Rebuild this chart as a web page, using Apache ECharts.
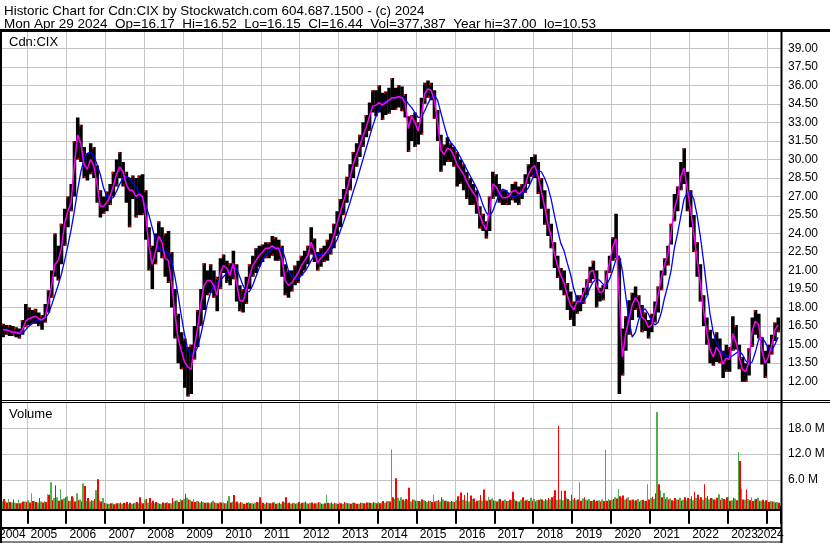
<!DOCTYPE html>
<html><head><meta charset="utf-8">
<script src="https://cdn.jsdelivr.net/npm/echarts@6/dist/echarts.min.js"></script>
<style>html,body{margin:0;padding:0;background:#fff}#c{width:830px;height:543px}</style>
</head><body><div id="c"></div>
<script>
// ---- data (monthly, May 2004 .. Apr 2024) ----
const startYear = 2004, startMonth = 5;
const priceHigh = [
16.7,16.6,16.6,16.5,16.4,16.3,17.0,18.3,18.0,17.8,
17.9,17.6,17.4,18.3,19.4,21.0,24.0,23.0,24.8,26.0,
27.0,28.0,31.5,33.4,32.8,31.0,30.5,31.3,31.0,29.5,
27.5,27.0,27.4,28.0,29.0,30.0,30.6,29.8,29.0,28.5,
28.7,28.5,28.7,28.8,27.5,24.5,23.0,24.0,25.0,24.5,
24.0,24.2,22.5,19.5,17.5,16.0,15.5,14.8,15.0,16.5,
17.8,19.5,21.6,21.0,21.5,21.0,20.5,22.0,22.3,21.8,
21.6,22.6,21.5,19.8,19.5,20.5,21.5,22.2,22.8,23.0,
23.1,23.3,23.3,23.8,23.7,23.5,23.0,21.5,21.0,21.0,
21.4,21.8,22.2,22.6,23.0,24.5,23.6,22.5,22.8,23.0,
23.5,24.0,24.8,25.8,26.8,27.6,28.6,29.6,30.6,31.3,
32.0,33.0,33.6,34.6,35.6,35.6,36.0,35.4,35.5,35.8,
36.6,35.8,36.0,35.9,35.3,33.5,33.6,33.8,33.0,35.0,
36.2,36.4,36.2,35.6,34.0,32.0,31.2,31.8,31.3,31.0,
30.6,30.0,29.6,29.0,28.5,28.0,27.5,26.2,25.6,25.0,
27.0,29.0,28.8,28.0,27.5,27.5,27.3,28.0,28.2,27.8,
28.0,28.8,29.6,30.2,30.4,29.8,28.5,27.5,26.0,24.8,
23.3,22.2,21.2,21.0,20.0,19.3,18.5,19.0,19.0,19.6,
20.3,21.3,21.8,21.0,19.6,19.8,21.0,22.2,23.7,25.6,
22.0,16.3,17.3,18.6,19.2,19.7,19.0,18.2,17.6,17.0,
17.5,18.5,19.7,21.0,22.0,23.0,24.8,27.2,27.8,29.8,
30.9,29.0,27.5,25.5,23.3,21.5,19.0,17.2,16.2,15.5,
16.0,15.5,14.5,15.0,14.8,17.3,16.6,15.0,14.0,13.5,
14.7,17.2,17.8,17.5,15.6,14.5,15.0,15.8,16.8,17.2];
const priceLow = [
15.6,15.8,15.7,15.7,15.6,15.5,15.8,16.4,16.6,16.7,
16.7,16.5,16.2,16.8,17.6,18.8,20.5,20.2,21.5,23.0,
24.5,25.8,27.0,30.0,29.8,28.5,28.3,28.8,28.5,26.5,
25.3,25.6,25.8,26.3,27.0,27.8,28.5,27.8,26.5,24.5,
26.8,25.3,25.5,25.5,23.5,21.0,19.5,21.5,22.5,22.0,
20.5,20.0,18.0,15.5,13.5,13.0,11.5,10.8,11.0,13.8,
14.8,16.5,17.8,19.0,19.2,18.8,17.7,19.5,20.8,20.0,
19.8,20.3,18.5,17.7,17.6,18.3,19.5,20.5,20.8,21.3,
21.7,22.0,22.0,22.2,21.8,21.8,20.5,19.0,18.8,19.3,
19.8,20.0,20.6,21.0,21.5,22.3,21.7,21.0,21.3,21.7,
21.8,22.3,22.8,23.8,24.5,25.5,26.5,27.5,28.5,29.4,
30.2,31.0,31.8,32.3,33.8,33.5,33.8,33.2,33.6,33.7,
34.0,34.0,34.2,33.9,33.4,30.6,31.5,31.0,31.2,32.0,
34.5,35.0,34.8,33.3,31.5,29.0,29.5,29.8,29.8,29.4,
27.8,28.0,27.5,26.8,26.3,26.3,25.6,24.4,24.2,23.6,
24.2,26.8,27.0,26.5,26.3,26.3,26.3,26.7,26.5,26.3,
26.8,27.3,28.0,28.6,28.5,27.2,26.0,24.7,23.8,22.8,
21.2,20.4,19.4,19.0,17.8,17.0,16.5,17.5,17.7,18.3,
19.0,20.0,20.3,18.0,18.5,18.6,19.5,20.8,21.8,22.0,
11.0,12.5,14.5,15.8,17.0,17.8,17.2,16.0,16.1,15.5,
16.0,16.8,17.6,19.4,20.6,21.4,23.1,25.0,25.8,27.5,
28.0,25.8,24.5,22.5,20.5,18.5,16.5,15.0,13.5,13.3,
13.6,13.5,12.3,12.8,12.8,14.5,14.6,13.0,12.0,12.0,
12.5,14.8,15.8,15.5,13.4,12.3,13.5,14.2,15.3,16.0];
const maShort = [
16.2,16.2,16.1,16.0,16.0,15.9,16.2,16.9,17.1,17.2,
17.3,17.1,17.0,17.2,18.5,19.8,21.5,21.8,22.8,24.8,
25.8,26.5,29.5,32.0,31.3,29.6,29.2,30.0,29.5,28.0,
26.2,26.2,26.5,27.0,27.8,28.8,29.4,29.0,28.0,27.5,
27.5,27.0,27.2,27.0,25.5,23.0,21.5,22.5,23.8,23.3,
22.0,21.8,20.0,17.5,15.5,14.5,13.6,13.2,13.0,14.8,
16.3,18.3,19.8,20.2,20.2,19.8,19.0,20.8,21.4,21.2,
20.6,21.6,20.0,18.6,18.5,19.4,20.5,21.4,21.8,22.2,
22.5,22.8,22.8,23.0,22.8,22.8,22.0,20.2,19.8,20.0,
20.4,20.8,21.4,21.8,22.2,23.3,22.6,21.6,22.0,22.3,
22.6,23.0,23.8,24.8,25.7,26.6,27.5,28.5,29.6,30.4,
31.1,31.9,32.6,33.5,34.3,34.4,34.6,34.4,34.6,34.8,
35.0,35.0,35.1,35.0,34.6,32.5,33.5,33.0,32.3,33.5,
35.3,35.7,35.6,34.8,33.0,30.8,30.4,30.9,30.8,30.3,
29.6,29.2,28.8,28.2,27.7,27.3,26.9,25.5,24.8,24.3,
25.8,28.0,27.8,27.3,26.9,26.9,27.0,27.4,27.5,27.2,
27.4,27.9,28.8,29.3,29.5,28.6,27.4,26.2,24.8,23.8,
22.4,21.4,20.6,20.0,19.0,18.2,17.8,18.5,18.5,19.2,
19.8,20.9,21.0,19.8,19.2,19.3,20.3,21.6,22.9,23.6,
19.0,14.0,15.9,17.0,18.2,18.8,18.4,17.2,17.0,16.4,
16.6,17.8,19.0,20.4,21.5,22.3,24.0,26.0,26.9,28.6,
29.3,27.6,26.0,24.0,22.0,20.0,17.8,16.0,14.6,14.0,
14.8,14.4,13.4,13.9,13.8,15.9,15.2,14.0,13.0,12.8,
13.6,16.1,16.9,16.6,14.5,13.5,14.0,14.9,16.2,16.6];
const maLong = [
16.2,16.1,16.1,16.0,16.0,15.9,15.9,16.2,16.5,16.7,
16.9,17.0,17.0,17.1,17.5,18.2,19.0,19.8,20.7,21.8,
23.0,24.3,25.8,27.5,29.0,30.0,30.5,30.6,30.3,29.6,
28.8,27.7,27.0,26.8,26.9,27.4,28.0,28.5,28.6,28.5,
28.1,27.8,27.2,26.8,26.3,25.5,24.5,23.5,22.8,22.6,
22.6,22.4,21.8,20.5,19.0,17.3,15.8,14.6,14.1,14.3,
14.8,15.8,17.0,18.3,19.2,19.8,20.0,20.2,20.5,20.8,
21.0,21.3,21.2,20.5,19.8,19.3,19.3,19.8,20.5,21.2,
21.8,22.3,22.5,22.8,22.9,22.8,22.8,22.0,21.0,20.5,
20.3,20.3,20.6,20.9,21.3,21.8,22.2,22.3,22.3,22.3,
22.4,22.6,23.0,23.5,24.2,24.9,25.7,26.5,27.4,28.2,
29.1,30.0,30.9,31.8,32.7,33.5,34.0,34.5,34.7,34.8,
34.9,35.0,35.0,35.0,34.9,34.5,34.2,33.8,33.4,33.4,
33.9,34.5,35.0,35.2,34.8,33.8,32.8,31.9,31.4,31.1,
30.7,30.2,29.7,29.2,28.7,28.2,27.7,27.1,26.3,25.7,
25.4,25.8,26.5,27.2,27.6,27.5,27.2,27.0,27.0,27.1,
27.2,27.4,27.7,28.3,28.9,29.1,29.0,28.5,27.8,26.8,
25.5,24.3,23.2,22.6,21.6,20.7,19.5,18.7,18.4,18.5,
18.9,19.6,20.1,20.3,20.2,19.9,19.8,20.3,21.0,21.9,
22.2,21.0,19.0,17.0,15.6,16.0,17.0,17.7,17.9,17.5,
16.9,16.6,16.8,17.6,18.8,19.8,21.0,22.8,24.0,25.4,
26.8,27.3,27.3,26.8,25.5,23.8,21.8,19.6,17.5,16.0,
15.1,14.8,14.3,14.1,14.0,14.1,14.3,14.5,14.2,13.7,
13.4,13.6,14.4,15.4,15.6,15.2,14.7,14.5,15.0,15.6];
// volume in millions of shares: up-day and down-day bars per month
const volUp = [
1.0,1.2,1.6,0.8,0.7,1.4,0.8,1.0,1.3,2.9,
1.2,0.8,1.0,1.1,2.7,5.5,1.8,2.0,3.9,1.7,
2.2,1.2,1.9,2.9,1.5,5.2,1.2,1.0,1.2,3.6,
1.3,1.8,0.6,0.5,0.7,0.5,0.6,0.5,0.6,0.4,
0.5,0.7,0.6,0.8,1.5,0.7,0.8,0.6,0.7,0.5,
0.6,0.9,0.6,1.0,1.3,1.6,1.6,1.9,1.4,1.6,
1.2,0.8,0.9,0.7,0.6,1.2,0.7,0.9,0.8,0.6,
2.3,1.0,0.8,0.6,0.8,0.5,0.9,0.6,0.7,0.8,
1.2,0.5,0.7,0.6,0.9,0.6,0.5,0.8,0.6,0.5,
0.7,0.6,0.5,0.8,0.6,0.7,0.5,0.6,0.8,0.5,
2.6,0.6,0.5,0.6,0.8,0.5,0.7,0.6,0.8,0.6,
0.5,0.7,0.6,0.8,0.6,0.7,0.9,0.8,0.7,1.1,
13.1,1.6,1.9,2.0,1.2,1.4,1.0,1.5,1.2,1.0,
1.3,0.9,1.1,2.6,1.2,1.0,1.5,1.2,0.9,1.0,
1.3,1.1,1.4,1.2,1.0,1.6,0.9,1.3,1.2,1.4,
2.1,1.7,1.2,1.4,1.0,1.5,1.1,1.3,1.6,1.0,
1.4,1.2,1.5,1.9,1.6,1.3,1.7,1.2,1.3,1.5,
2.3,1.4,1.5,1.3,1.9,1.2,1.5,1.3,5.5,1.7,
1.4,1.6,1.2,1.0,1.3,1.5,13.0,1.6,1.4,2.0,
3.9,1.8,1.5,2.0,1.4,1.2,1.6,1.3,1.1,5.0,
1.8,1.6,21.8,3.6,3.0,2.0,1.7,1.2,1.5,1.9,
1.4,1.3,1.6,1.3,1.8,1.5,1.4,1.9,1.5,1.7,
1.4,2.7,1.8,1.5,2.1,1.3,1.7,12.5,4.0,1.4,
1.6,2.0,1.5,1.9,1.2,1.0,1.3,1.1,1.0,0.9];
const volDown = [
1.6,0.8,0.9,1.5,0.6,0.6,1.0,0.9,0.8,1.1,
0.9,1.8,0.8,0.9,2.6,1.3,4.8,1.2,1.5,2.0,
1.2,2.2,1.0,1.3,1.0,4.6,1.8,1.3,1.6,6.2,
1.0,0.7,0.5,0.6,0.4,0.6,0.8,0.7,0.9,0.7,
0.6,0.9,2.0,0.6,1.6,1.8,1.2,0.9,0.5,0.8,
0.7,0.6,1.8,1.2,0.9,1.3,2.8,1.5,1.0,0.9,
1.0,1.1,0.7,0.8,0.9,0.8,0.6,0.8,0.6,1.2,
0.8,2.5,1.0,0.9,0.5,0.7,0.6,0.5,0.9,2.0,
0.7,0.8,0.6,0.8,0.5,0.8,1.0,2.0,0.7,0.6,
0.5,0.9,0.7,1.0,0.5,0.8,0.6,0.9,0.5,0.6,
0.7,0.8,0.7,0.5,0.6,0.9,0.6,0.5,0.7,0.5,
0.7,0.6,0.8,0.7,0.9,0.6,0.6,1.1,1.0,1.0,
2.0,6.4,1.2,1.5,1.6,4.2,1.5,1.2,1.1,1.5,
1.1,1.2,0.9,1.0,1.4,2.0,1.2,1.0,1.1,0.9,
2.2,3.1,2.5,3.1,2.4,1.7,1.2,2.5,3.8,1.2,
1.4,1.3,1.0,1.6,1.2,1.1,1.4,3.3,1.2,1.0,
2.0,1.3,1.1,1.2,1.0,1.4,1.5,1.6,1.8,2.0,
3.6,18.6,3.5,3.5,1.6,2.6,1.8,1.5,1.2,2.0,
1.3,1.1,1.4,1.2,1.0,1.1,1.2,1.3,1.6,1.7,
2.2,2.4,1.7,1.3,1.5,1.3,1.0,1.4,1.2,1.5,
2.1,2.9,5.0,2.0,1.6,1.5,1.3,1.8,1.4,1.2,
2.0,1.8,2.2,3.2,2.6,2.0,5.0,2.3,1.8,1.5,
1.9,1.4,1.6,2.0,1.2,1.9,1.3,10.4,1.5,3.8,
1.3,1.1,1.6,1.2,1.4,1.3,0.9,1.0,0.8,0.7];
const yearLabels = ['2004','2005','2006','2007','2008','2009','2010','2011','2012','2013','2014',
  '2015','2016','2017','2018','2019','2020','2021','2022','2023','2024'];
const volTicks = [6, 12, 18];
const titleLine1 = 'Historic Chart for Cdn:CIX by Stockwatch.com 604.687.1500 - (c) 2024';
const titleLine2 = 'Mon Apr 29 2024  Op=16.17  Hi=16.52  Lo=16.15  Cl=16.44  Vol=377,387  Year hi=37.00  lo=10.53';

// ---- build ----
const FONT = '"Liberation Sans", Arial, Helvetica, sans-serif';
const months = priceHigh.map((_, k) => startYear + (startMonth - 1 + k + 0.5) / 12);
const half = 1 / 24;
const xMin = 2004, xMax = 2024.366;
const gridL = -11.62, gridR = 49;
const firstYear = yearLabels[0], lastYear = yearLabels[yearLabels.length - 1];

const chart = echarts.init(document.getElementById('c'), null, {renderer: 'canvas'});

function yearOf(v) {
  if (Math.abs(v - Math.round(v)) > 1e-6) return null;
  const s = String(Math.round(v));
  return yearLabels.indexOf(s) < 0 ? null : s;
}
function yearFmtMain(v) {
  const s = yearOf(v);
  if (!s || s === lastYear) return '';
  return s === firstYear ? '{f|' + s + '}' : '{n|' + s + '}';
}
function yearFmtLast(v) {
  const s = yearOf(v);
  return s === lastYear ? '{l|' + s + '}' : '';
}
const labStyle = {fontSize: 12, fontFamily: FONT, color: '#000', lineHeight: 14};

const rangeData = months.map((t, k) => [t, priceLow[k], priceHigh[k]]);
const upData = months.map((t, k) => [t, volUp[k]]);
const dnData = months.map((t, k) => [t, volDown[k]]);

const option = {
  animation: false,
  backgroundColor: '#fff',
  grid: [
    {left: gridL, right: gridR, top: 31, height: 369.2, outerBoundsMode: 'none', containLabel: false},
    {left: gridL, right: gridR, top: 402, height: 107, outerBoundsMode: 'none', containLabel: false}
  ],
  xAxis: [
    {type: 'value', gridIndex: 0, min: xMin, max: xMax, interval: 1,
      axisLine: {show: false}, axisTick: {show: false}, axisLabel: {show: false},
      splitLine: {show: true, lineStyle: {color: '#c4c4c4', width: 1}}},
    {type: 'value', gridIndex: 1, min: xMin, max: xMax, interval: 1,
      axisLine: {show: false},
      axisTick: {show: true, inside: false, length: 18, lineStyle: {color: '#000', width: 2}},
      axisLabel: {show: true, showMinLabel: true, showMaxLabel: true, hideOverlap: false, margin: 19,
        align: 'left', formatter: yearFmtMain,
        rich: {
          n: Object.assign({padding: [0, 0, 0, 3.3]}, labStyle),
          f: Object.assign({padding: [0, 0, 0, 10.6]}, labStyle)
        }},
      splitLine: {show: true, lineStyle: {color: '#c4c4c4', width: 1}}},
    {type: 'value', gridIndex: 1, min: xMin, max: xMax, interval: 1, position: 'bottom',
      axisLine: {show: false}, axisTick: {show: false}, splitLine: {show: false},
      axisLabel: {show: true, showMinLabel: true, showMaxLabel: true, hideOverlap: false, margin: 19,
        align: 'center', formatter: yearFmtLast,
        rich: {l: Object.assign({padding: [0, 0, 0, 7.1]}, labStyle)}}}
  ],
  yAxis: [
    {type: 'value', gridIndex: 0, position: 'right', min: 10.5, max: 40.4, interval: 1.5,
      axisLine: {show: false}, axisTick: {show: false},
      axisLabel: {show: true, showMinLabel: false, showMaxLabel: false, margin: 7,
        color: '#000', fontSize: 12, fontFamily: FONT, formatter: v => v.toFixed(2)},
      splitLine: {show: true, lineStyle: {color: '#c4c4c4', width: 1}}},
    {type: 'value', gridIndex: 1, position: 'right', min: -0.731, max: 24.1,
      axisLine: {show: false}, axisTick: {show: false}, axisLabel: {show: false},
      splitLine: {show: false}}
  ],
  series: [
    {
      type: 'custom', name: 'range', xAxisIndex: 0, yAxisIndex: 0, z: 2, clip: true,
      encode: {x: 0, y: [1, 2]},
      data: rangeData,
      renderItem: function (params, api) {
        const t = api.value(0);
        const a = api.coord([t - half, api.value(2)]);
        const b = api.coord([t + half, api.value(1)]);
        const w = b[0] - a[0];
        const red = (params.dataIndex % 2 === 0)
          ? {x: a[0], y: a[1], width: 1.5, height: 2}
          : {x: b[0] - 1.5, y: b[1] - 2, width: 1.5, height: 2};
        return {type: 'group', children: [
          {type: 'rect', shape: {x: a[0], y: a[1], width: w + 0.3, height: Math.max(1, b[1] - a[1])},
            style: {fill: '#000'}},
          {type: 'rect', shape: red, style: {fill: '#ff0000'}}
        ]};
      }
    },
    {type: 'line', name: 'maLong', xAxisIndex: 0, yAxisIndex: 0, z: 3, symbol: 'none',
      lineStyle: {color: '#0000ff', width: 1.3},
      data: months.map((t, k) => [t, maLong[k]])},
    {type: 'line', name: 'maShort', xAxisIndex: 0, yAxisIndex: 0, z: 4, symbol: 'none',
      lineStyle: {color: '#ff00ff', width: 1.5},
      data: months.map((t, k) => [t, maShort[k]])},
    {
      type: 'custom', name: 'volUp', xAxisIndex: 1, yAxisIndex: 1, z: 3, clip: true,
      encode: {x: 0, y: 1},
      data: upData,
      renderItem: function (params, api) {
        const t = api.value(0);
        const a = api.coord([t - half, api.value(1)]);
        const b = api.coord([t, 0]);
        const base = params.coordSys.y + params.coordSys.height;
        const x0 = Math.round(a[0]), x1 = Math.round(b[0]);
        return {type: 'rect', shape: {x: x0, y: a[1], width: Math.max(1, x1 - x0), height: base - a[1]},
          style: {fill: '#4cb34c'}};
      },
      markLine: {
        silent: true, z: 1, symbol: ['none', 'none'], animation: false,
        lineStyle: {color: '#c4c4c4', width: 1, type: 'solid'},
        label: {show: true, position: 'end', distance: 7, color: '#000', fontSize: 12, fontFamily: FONT,
          formatter: p => p.value.toFixed(1) + ' M'},
        data: volTicks.map(v => ({yAxis: v}))
      }
    },
    {
      type: 'custom', name: 'volDown', xAxisIndex: 1, yAxisIndex: 1, z: 3, clip: true,
      encode: {x: 0, y: 1},
      data: dnData,
      renderItem: function (params, api) {
        const t = api.value(0);
        const a = api.coord([t, api.value(1)]);
        const b = api.coord([t + half, 0]);
        const base = params.coordSys.y + params.coordSys.height;
        const x0 = Math.round(a[0]), x1 = Math.round(b[0]);
        return {type: 'rect', shape: {x: x0, y: a[1], width: Math.max(1, x1 - x0), height: base - a[1]},
          style: {fill: '#ff0000'}};
      }
    }
  ],
  graphic: [
    {type: 'text', x: 4, y: 11, z: 100, silent: true,
      style: {text: titleLine1, font: '13.4px ' + FONT, fill: '#000', verticalAlign: 'middle'}},
    {type: 'text', x: 4, y: 24, z: 100, silent: true,
      style: {text: titleLine2, font: '13.5px ' + FONT, fill: '#000', verticalAlign: 'middle'}},
    {type: 'text', x: 9, y: 42, z: 100, silent: true,
      style: {text: 'Cdn:CIX', font: '13px ' + FONT, fill: '#000', verticalAlign: 'middle'}},
    {type: 'text', x: 9, y: 414, z: 100, silent: true,
      style: {text: 'Volume', font: '13px ' + FONT, fill: '#000', verticalAlign: 'middle'}},
    {type: 'line', z: 100, silent: true, shape: {x1: 0, y1: 30.5, x2: 830, y2: 30.5}, style: {stroke: '#000', lineWidth: 3}},
    {type: 'line', z: 100, silent: true, shape: {x1: 0, y1: 400.5, x2: 830, y2: 400.5}, style: {stroke: '#000', lineWidth: 1}},
    {type: 'line', z: 100, silent: true, shape: {x1: 0, y1: 402.5, x2: 830, y2: 402.5}, style: {stroke: '#000', lineWidth: 1}},
    {type: 'line', z: 100, silent: true, shape: {x1: 0, y1: 510, x2: 782, y2: 510}, style: {stroke: '#000', lineWidth: 2}},
    {type: 'line', z: 100, silent: true, shape: {x1: 0, y1: 528, x2: 782, y2: 528}, style: {stroke: '#000', lineWidth: 2}},
    {type: 'line', z: 100, silent: true, shape: {x1: 1, y1: 29, x2: 1, y2: 543}, style: {stroke: '#000', lineWidth: 2}},
    {type: 'line', z: 100, silent: true, shape: {x1: 781.5, y1: 29, x2: 781.5, y2: 543}, style: {stroke: '#000', lineWidth: 2}},
    {type: 'line', z: 100, silent: true, shape: {x1: 0, y1: 542, x2: 782, y2: 542}, style: {stroke: '#000', lineWidth: 1}}
  ]
};
chart.setOption(option);
</script>
</body></html>
